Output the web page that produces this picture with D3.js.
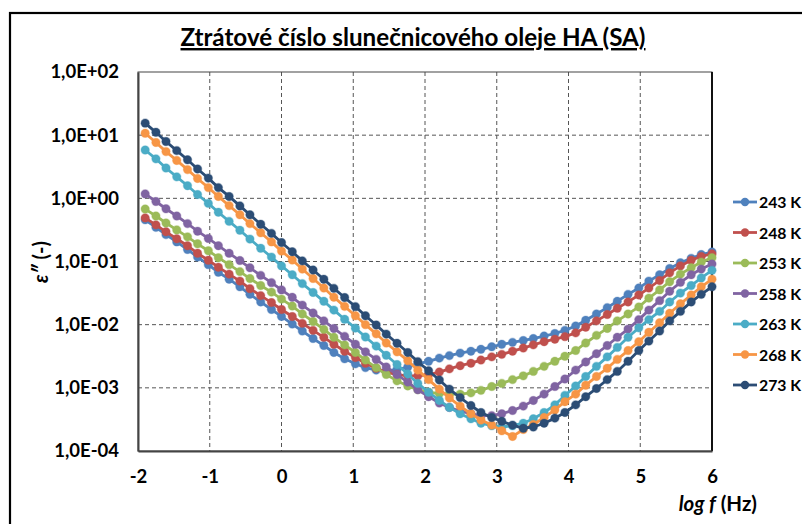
<!DOCTYPE html>
<html><head><meta charset="utf-8">
<script src="https://cdn.jsdelivr.net/npm/d3@7"></script>
<style>body{margin:0;background:#fff;}svg{display:block}</style>
</head><body>
<svg id="c" width="802" height="524"></svg>
<script>
// log10(f / Hz)
const logF = [-1.90,-1.75,-1.61,-1.46,-1.31,-1.17,-1.02,-0.88,-0.73,-0.58,-0.44,-0.29,-0.14,0.00,0.15,0.29,0.44,0.59,0.73,0.88,1.03,1.17,1.32,1.46,1.61,1.76,1.90,2.05,2.20,2.34,2.49,2.64,2.78,2.93,3.07,3.22,3.37,3.51,3.66,3.81,3.95,4.10,4.24,4.39,4.54,4.68,4.83,4.98,5.12,5.27,5.41,5.56,5.71,5.85,6.00];
const seriesNames = ["243 K","248 K","253 K","258 K","263 K","268 K","273 K"];
// log10(ε″)
const eps243 = [-0.34,-0.46,-0.575,-0.69,-0.81,-0.93,-1.05,-1.17,-1.28,-1.40,-1.52,-1.64,-1.76,-1.87,-1.99,-2.10,-2.22,-2.33,-2.44,-2.54,-2.62,-2.68,-2.72,-2.73,-2.71,-2.67,-2.62,-2.58,-2.53,-2.49,-2.45,-2.42,-2.39,-2.35,-2.31,-2.28,-2.25,-2.22,-2.18,-2.14,-2.09,-2.02,-1.93,-1.83,-1.73,-1.63,-1.52,-1.42,-1.31,-1.21,-1.11,-1.02,-0.95,-0.89,-0.85];
const eps248 = [-0.31,-0.42,-0.53,-0.64,-0.75,-0.87,-0.98,-1.09,-1.20,-1.31,-1.43,-1.54,-1.65,-1.76,-1.87,-1.98,-2.09,-2.20,-2.31,-2.42,-2.52,-2.61,-2.69,-2.75,-2.79,-2.81,-2.81,-2.79,-2.75,-2.70,-2.65,-2.61,-2.56,-2.51,-2.47,-2.42,-2.37,-2.32,-2.27,-2.23,-2.19,-2.13,-2.04,-1.94,-1.84,-1.74,-1.64,-1.53,-1.42,-1.30,-1.18,-1.07,-0.98,-0.92,-0.88];
const eps253 = [-0.17,-0.28,-0.39,-0.50,-0.61,-0.72,-0.83,-0.94,-1.05,-1.16,-1.27,-1.38,-1.485,-1.595,-1.705,-1.83,-1.95,-2.075,-2.20,-2.32,-2.44,-2.56,-2.68,-2.79,-2.89,-2.97,-3.03,-3.07,-3.09,-3.10,-3.10,-3.08,-3.04,-2.98,-2.93,-2.87,-2.81,-2.74,-2.66,-2.58,-2.50,-2.41,-2.29,-2.17,-2.06,-1.94,-1.83,-1.72,-1.58,-1.45,-1.32,-1.20,-1.10,-1.01,-0.94];
const eps258 = [0.07,-0.05,-0.165,-0.28,-0.40,-0.52,-0.635,-0.75,-0.87,-0.985,-1.10,-1.22,-1.335,-1.45,-1.567,-1.69,-1.815,-1.94,-2.06,-2.185,-2.31,-2.43,-2.55,-2.67,-2.79,-2.91,-3.03,-3.14,-3.24,-3.31,-3.37,-3.41,-3.44,-3.44,-3.41,-3.36,-3.29,-3.20,-3.10,-2.98,-2.86,-2.72,-2.59,-2.46,-2.33,-2.20,-2.07,-1.92,-1.77,-1.62,-1.47,-1.33,-1.21,-1.12,-1.04];
const eps263 = [0.765,0.625,0.48,0.34,0.20,0.06,-0.08,-0.22,-0.365,-0.505,-0.645,-0.79,-0.93,-1.07,-1.21,-1.35,-1.49,-1.63,-1.77,-1.915,-2.055,-2.195,-2.34,-2.485,-2.63,-2.78,-2.93,-3.07,-3.20,-3.31,-3.41,-3.49,-3.56,-3.60,-3.62,-3.60,-3.56,-3.49,-3.39,-3.27,-3.12,-2.97,-2.82,-2.66,-2.51,-2.36,-2.20,-2.05,-1.92,-1.79,-1.64,-1.50,-1.38,-1.26,-1.14];
const eps268 = [1.03,0.885,0.74,0.60,0.455,0.315,0.17,0.03,-0.115,-0.26,-0.40,-0.545,-0.69,-0.835,-0.976,-1.12,-1.27,-1.42,-1.565,-1.71,-1.86,-2.00,-2.145,-2.29,-2.43,-2.57,-2.72,-2.87,-3.02,-3.16,-3.29,-3.41,-3.51,-3.59,-3.68,-3.77,-3.66,-3.58,-3.47,-3.35,-3.22,-3.10,-2.96,-2.82,-2.69,-2.55,-2.41,-2.27,-2.12,-1.97,-1.82,-1.67,-1.53,-1.40,-1.28];
const eps273 = [1.19,1.045,0.90,0.755,0.61,0.465,0.32,0.17,0.03,-0.12,-0.26,-0.41,-0.555,-0.70,-0.845,-0.99,-1.135,-1.28,-1.425,-1.57,-1.715,-1.86,-2.005,-2.15,-2.295,-2.44,-2.585,-2.73,-2.875,-3.02,-3.155,-3.28,-3.39,-3.47,-3.53,-3.59,-3.64,-3.62,-3.56,-3.48,-3.39,-3.27,-3.14,-3.01,-2.87,-2.74,-2.58,-2.41,-2.26,-2.10,-1.94,-1.79,-1.64,-1.52,-1.40];
const xTicks = [-2,-1,0,1,2,3,4,5,6];
const yTicks = [1e-4,1e-3,1e-2,1e-1,1e0,1e1,1e2];
const yTickLabels = ["1,0E-04","1,0E-03","1,0E-02","1,0E-01","1,0E+00","1,0E+01","1,0E+02"];
const titleText = "Ztrátové číslo slunečnicového oleje HA (SA)";

const colors = ["#4F81BD","#C0504D","#9BBB59","#8064A2","#4BACC6","#F79646","#2C4D75"];
const allSeries = [eps243,eps248,eps253,eps258,eps263,eps268,eps273];

const svg = d3.select("#c");
const FONT = "Lato, 'Open Sans', sans-serif";
const L=138,R=712,T=72,B=451;
const x = d3.scaleLinear().domain([-2,6]).range([L,R]);
const y = d3.scaleLog().domain([1e-4,1e2]).range([B,T]);

// outer frame
svg.append("rect").attr("x",10).attr("y",13).attr("width",820).attr("height",540)
  .attr("fill","#fff").attr("stroke","#000").attr("stroke-width",2.2);

// title
svg.append("text").attr("x",413).attr("y",46).attr("text-anchor","middle")
  .attr("font-family",FONT).attr("font-weight","bold").attr("font-size",24.2)
  .attr("text-decoration","underline").attr("fill","#000").text(titleText);

// gridlines
const g = svg.append("g");
g.selectAll(".vg").data(xTicks.slice(1,-1)).join("line")
  .attr("x1",d=>x(d)).attr("x2",d=>x(d)).attr("y1",T).attr("y2",B)
  .attr("stroke","#555").attr("stroke-width",1).attr("stroke-dasharray","4,3");
g.selectAll(".hg").data(yTicks.slice(1,-1)).join("line")
  .attr("x1",L).attr("x2",R).attr("y1",d=>y(d)).attr("y2",d=>y(d))
  .attr("stroke","#555").attr("stroke-width",1).attr("stroke-dasharray","4,3");

// plot frame
svg.append("rect").attr("x",L).attr("y",T).attr("width",R-L).attr("height",B-T)
  .attr("fill","none").attr("stroke","#444").attr("stroke-width",1);
svg.append("line").attr("x1",R).attr("x2",R).attr("y1",T).attr("y2",B).attr("stroke","#111").attr("stroke-width",2);

// axes
const TF = 18.5;
const ax = svg.append("g").attr("transform",`translate(0,${B})`)
  .call(d3.axisBottom(x).tickValues(xTicks).tickSize(0).tickPadding(19).tickFormat(d3.format("d")));
const ay = svg.append("g").attr("transform",`translate(${L},0)`)
  .call(d3.axisLeft(y).tickValues(yTicks).tickSize(0).tickPadding(19).tickFormat((d,i)=>yTickLabels[i]));
[ax,ay].forEach(a=>{
  a.select(".domain").attr("stroke","#444").attr("stroke-width",2);
  a.selectAll("text").attr("font-family",FONT).attr("font-weight","bold").attr("font-size",TF).attr("fill","#000");
});
ax.selectAll("text").text(d=>d<0?"-"+Math.abs(d):d);

// axis titles
const xt = svg.append("text").attr("x",757).attr("y",511).attr("text-anchor","end")
  .attr("font-family",FONT).attr("font-weight","bold").attr("font-size",20.5).attr("fill","#000");
xt.append("tspan").attr("font-style","italic").text("log f");
xt.append("tspan").text(" (Hz)");
const yt = svg.append("text").attr("transform","translate(48,262) rotate(-90)").attr("text-anchor","middle")
  .attr("font-family",FONT).attr("font-weight","bold").attr("font-size",20).attr("fill","#000");
yt.append("tspan").attr("font-style","italic").text("ε″");
yt.append("tspan").text(" (-)");

// series
const line = d3.line().x((d,i)=>x(logF[i])).y(d=>y(Math.pow(10,d)));
allSeries.forEach((s,k)=>{
  const sg = svg.append("g");
  sg.append("path").datum(s).attr("d",line).attr("fill","none")
    .attr("stroke",colors[k]).attr("stroke-width",2.8);
  sg.selectAll("circle").data(s).join("circle")
    .attr("cx",(d,i)=>x(logF[i])).attr("cy",d=>y(Math.pow(10,d))).attr("r",4.2)
    .attr("fill",colors[k]).attr("stroke",colors[k]).attr("stroke-opacity",0.35).attr("stroke-width",1.2);
});

// legend
const lg = svg.append("g");
seriesNames.forEach((n,k)=>{
  const yy = 202 + k*30.5;
  lg.append("line").attr("x1",733).attr("x2",757).attr("y1",yy).attr("y2",yy)
    .attr("stroke",colors[k]).attr("stroke-width",2.8);
  lg.append("circle").attr("cx",745).attr("cy",yy).attr("r",4.2).attr("fill",colors[k]);
  lg.append("text").attr("x",759).attr("y",yy+6).attr("font-family",FONT).attr("font-weight","bold")
    .attr("font-size",15.8).attr("fill","#000").text(n);
});
</script>
</body></html>
